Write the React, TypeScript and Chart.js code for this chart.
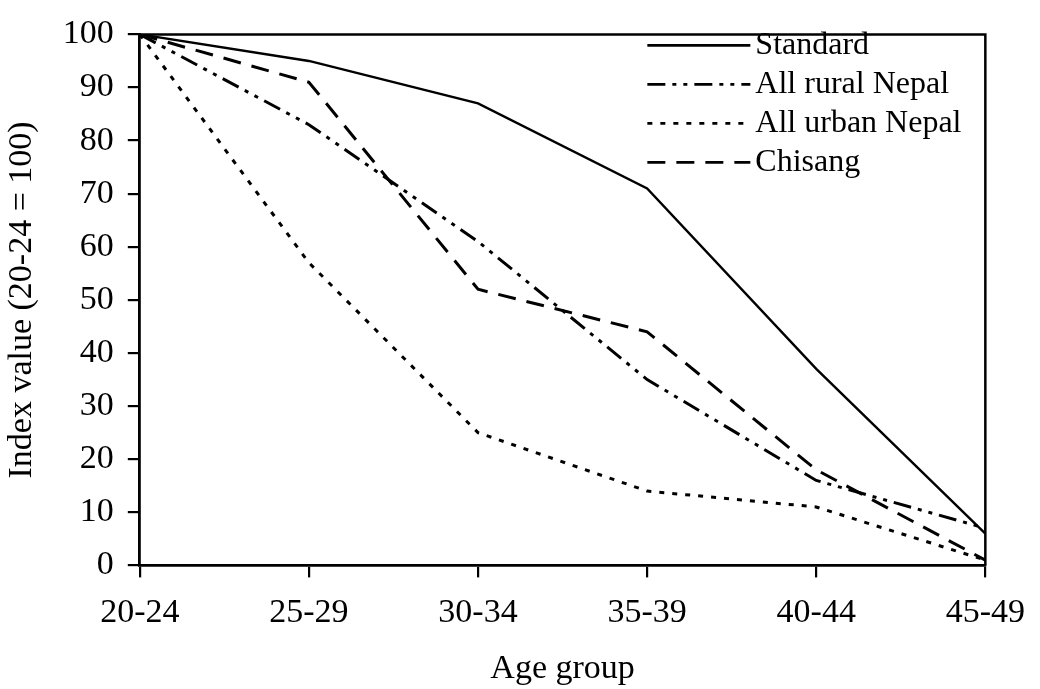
import React, { useEffect, useRef } from "react";
import { Chart, registerables } from "chart.js";

Chart.register(...registerables);

const categories = ["20-24", "25-29", "30-34", "35-39", "40-44", "45-49"];
const standard = [100, 95, 87, 71, 37, 6];
const allRural = [100, 83, 61, 35, 16, 7];
const allUrban = [100, 57, 25, 14, 11, 1];
const chisang = [100, 91, 52, 44, 18, 1];
const seriesLabels = ["Standard", "All rural Nepal", "All urban Nepal", "Chisang"];
const yTitle = "Index value (20-24 = 100)";
const xTitle = "Age group";

const FONT = "'Liberation Serif', 'Times New Roman', serif";

const dashes: number[][] = [[], [18, 7, 4, 7, 4, 7], [5, 8], [18, 11]];

const boxAndLegend = {
  id: "boxAndLegend",
  afterDraw(chart: any) {
    const { ctx, chartArea } = chart;
    ctx.save();
    ctx.strokeStyle = "#000";
    ctx.lineWidth = 2.5;
    ctx.setLineDash([]);
    ctx.beginPath();
    ctx.moveTo(chartArea.left, chartArea.top);
    ctx.lineTo(chartArea.right, chartArea.top);
    ctx.lineTo(chartArea.right, chartArea.bottom);
    ctx.stroke();

    const x0 = chartArea.right - 338;
    const x1 = chartArea.right - 235;
    const tx = chartArea.right - 230;
    let y = chartArea.top + 11;
    ctx.font = `32px ${FONT}`;
    ctx.fillStyle = "#000";
    ctx.textBaseline = "middle";
    ctx.textAlign = "left";
    chart.data.datasets.forEach((ds: any, i: number) => {
      ctx.lineWidth = 2.6;
      ctx.setLineDash(dashes[i]);
      ctx.beginPath();
      ctx.moveTo(x0, y);
      ctx.lineTo(x1, y);
      ctx.stroke();
      ctx.setLineDash([]);
      ctx.fillText(ds.label, tx, y);
      y += 39;
    });
    ctx.restore();
  },
};

export default function App() {
  const ref = useRef<HTMLCanvasElement | null>(null);
  useEffect(() => {
    if (!ref.current) return;
    const mk = (label: string, data: number[], i: number) => ({
      label,
      data,
      borderColor: "#000",
      backgroundColor: "#000",
      borderWidth: i === 0 ? 2.4 : 3,
      borderDash: dashes[i],
      pointRadius: 0,
      tension: 0,
      fill: false,
    });
    const chart = new Chart(ref.current, {
      type: "line",
      data: {
        labels: categories,
        datasets: [
          mk(seriesLabels[0], standard, 0),
          mk(seriesLabels[1], allRural, 1),
          mk(seriesLabels[2], allUrban, 2),
          mk(seriesLabels[3], chisang, 3),
        ],
      },
      options: {
        animation: false,
        responsive: true,
        maintainAspectRatio: false,
        layout: { padding: { top: 14, right: 0, left: 2, bottom: 0 } },
        plugins: {
          legend: { display: false },
          tooltip: { enabled: false },
          title: { display: false },
        },
        scales: {
          x: {
            type: "category",
            offset: false,
            grid: {
              display: true,
              drawOnChartArea: false,
              drawTicks: true,
              tickLength: 12,
              color: "#000",
              lineWidth: 2.2,
            },
            border: { display: true, color: "#000", width: 2.8 },
            ticks: {
              color: "#000",
              font: { family: FONT, size: 34 },
              padding: 15,
              maxRotation: 0,
              autoSkip: false,
            },
            title: {
              display: true,
              text: xTitle,
              color: "#000",
              font: { family: FONT, size: 34 },
              padding: { top: 0, bottom: 0 },
            },
          },
          y: {
            min: 0,
            max: 100,
            grid: {
              display: true,
              drawOnChartArea: false,
              drawTicks: true,
              tickLength: 12,
              color: "#000",
              lineWidth: 2.2,
            },
            border: { display: true, color: "#000", width: 2.8 },
            ticks: {
              stepSize: 10,
              color: "#000",
              font: { family: FONT, size: 34 },
              padding: 14,
            },
            title: {
              display: true,
              text: yTitle,
              color: "#000",
              font: { family: FONT, size: 34 },
              padding: { top: 0, bottom: 6 },
            },
          },
        },
      },
      plugins: [boxAndLegend],
    });
    return () => chart.destroy();
  }, []);
  return (
    <div style={{ position: "fixed", left: 0, top: 0, width: 1040, height: 689, background: "#fff" }}>
      <canvas ref={ref} />
    </div>
  );
}
